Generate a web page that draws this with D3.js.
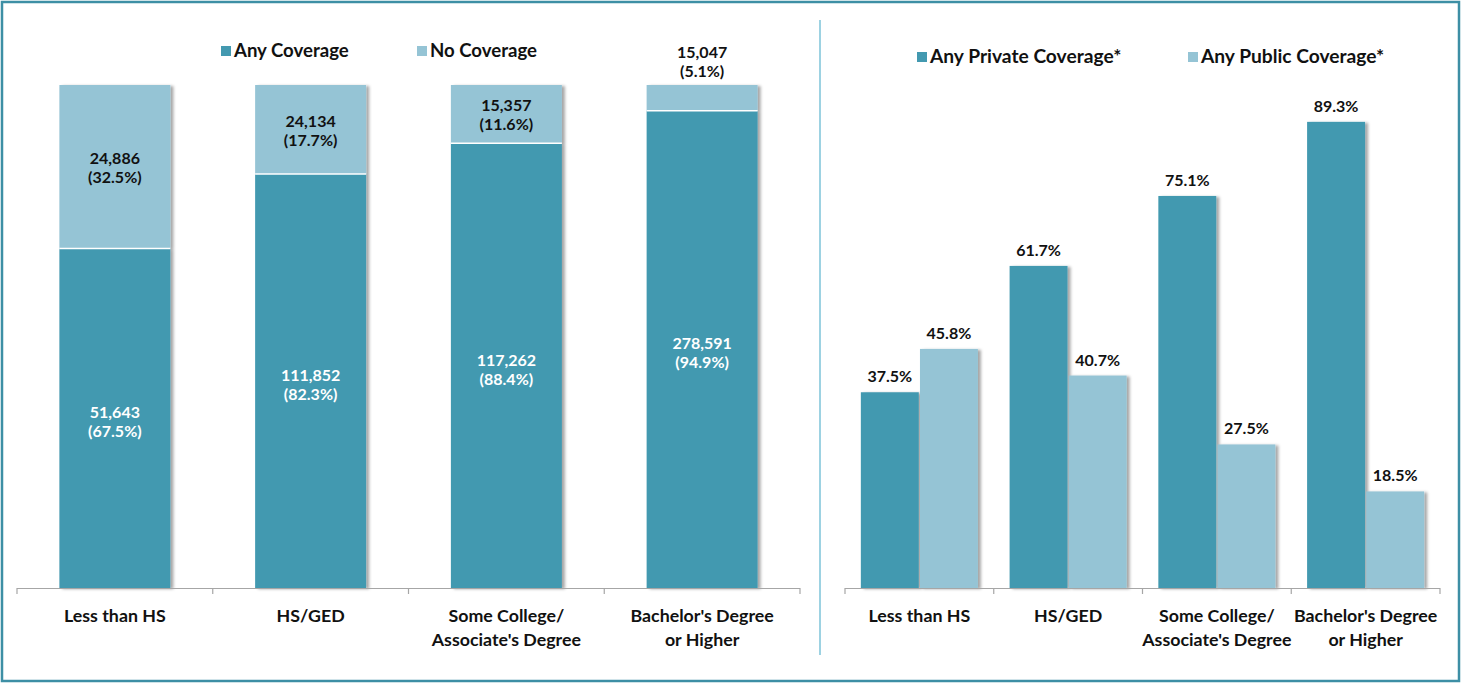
<!DOCTYPE html>
<html>
<head>
<meta charset="utf-8">
<script src="https://cdnjs.cloudflare.com/ajax/libs/d3/7.8.5/d3.min.js"></script>
<style>
  body { margin: 0; background: #fff; }
  text { font-family: Lato, "Open Sans", sans-serif; font-weight: bold; }
</style>
</head>
<body>
<div id="chart"></div>
<script>
// Chart data
var categories = ["Less than HS", "HS/GED", "Some College/\nAssociate's Degree", "Bachelor's Degree\nor Higher"];

// left panel: stacked coverage (counts and shares)
var anyCoverageCount = ["51,643", "111,852", "117,262", "278,591"];
var anyCoveragePct = [67.5, 82.3, 88.4, 94.9];
var noCoverageCount = ["24,886", "24,134", "15,357", "15,047"];
var noCoveragePct = [32.5, 17.7, 11.6, 5.1];

// right panel: private vs public
var privatePct = [37.5, 61.7, 75.1, 89.3];
var publicPct = [45.8, 40.7, 27.5, 18.5];

var leftLegend = ["Any Coverage", "No Coverage"];
var rightLegend = ["Any Private Coverage*", "Any Public Coverage*"];

var dark = "#4399b0";
var light = "#95c4d5";

var svgWidth = 1461;
var svgHeight = 683;

var svg = d3.select("#chart")
  .append("svg")
  .attr("width", svgWidth)
  .attr("height", svgHeight);

// shadow on bars
var defs = svg.append("defs");
var f = defs.append("filter").attr("id", "shadow")
  .attr("x", "-10%").attr("y", "-5%").attr("width", "130%").attr("height", "110%");
f.append("feDropShadow")
  .attr("dx", 3).attr("dy", 1).attr("stdDeviation", 1.5)
  .attr("flood-color", "#000").attr("flood-opacity", 0.35);

// outer frame + divider
svg.append("rect")
  .attr("x", 2).attr("y", 2)
  .attr("width", svgWidth - 4).attr("height", svgHeight - 4)
  .attr("fill", "none").attr("stroke", "#3d8fa5").attr("stroke-width", 2.5);

svg.append("line")
  .attr("x1", 820).attr("x2", 820).attr("y1", 20).attr("y2", 655)
  .attr("stroke", "#7cc3d8").attr("stroke-width", 1.5);

var baseY = 588;

function drawCategoryAxis(scale, x0, x1) {
  var g = svg.append("g");
  g.append("line")
    .attr("x1", x0).attr("x2", x1).attr("y1", baseY + 0.5).attr("y2", baseY + 0.5)
    .attr("stroke", "#a6a6a6").attr("stroke-width", 1.2);
  var bounds = categories.map(function(c) { return scale(c) - scale.step() * scale.paddingInner() / 2; });
  bounds.push(x1);
  g.selectAll("line.tick").data(bounds).enter().append("line")
    .attr("class", "tick")
    .attr("x1", d => d).attr("x2", d => d)
    .attr("y1", baseY).attr("y2", baseY + 6)
    .attr("stroke", "#a6a6a6").attr("stroke-width", 1.2);
  var labels = g.selectAll("text").data(categories).enter().append("text")
    .attr("text-anchor", "middle")
    .attr("font-size", "17.8px")
    .attr("fill", "#111");
  labels.each(function(d) {
    var t = d3.select(this);
    d.split("\n").forEach(function(line, i) {
      t.append("tspan")
        .attr("x", scale(d) + scale.bandwidth() / 2)
        .attr("y", 622 + i * 24)
        .text(line);
    });
  });
}

function drawLegend(items, xs, y, size) {
  var colors = [dark, light];
  items.forEach(function(name, i) {
    svg.append("rect")
      .attr("x", xs[i]).attr("y", y - 11)
      .attr("width", 10).attr("height", 10)
      .attr("fill", colors[i]);
    svg.append("text")
      .attr("x", xs[i] + 13).attr("y", y)
      .attr("font-size", size)
      .attr("fill", "#111")
      .text(name);
  });
}

// ---------------- Left panel ----------------
var xLeft = d3.scaleBand()
  .domain(categories)
  .range([17, 800])
  .paddingInner(0.433)
  .paddingOuter(0.2165);

var yLeft = d3.scaleLinear()
  .domain([0, 100])
  .range([baseY, 85]);

var leftRows = categories.map(function(c, i) {
  return { cat: c, anyPct: anyCoveragePct[i], anyN: anyCoverageCount[i], noPct: noCoveragePct[i], noN: noCoverageCount[i] };
});

var lg = svg.append("g");
var stacks = lg.selectAll("g.stack").data(leftRows).enter().append("g")
  .attr("class", "stack")
  .attr("filter", "url(#shadow)");

stacks.append("rect")
  .attr("x", d => xLeft(d.cat))
  .attr("width", xLeft.bandwidth())
  .attr("y", d => yLeft(d.anyPct))
  .attr("height", d => baseY - yLeft(d.anyPct))
  .attr("fill", dark);

stacks.append("rect")
  .attr("x", d => xLeft(d.cat))
  .attr("width", xLeft.bandwidth())
  .attr("y", d => yLeft(d.anyPct + d.noPct))
  .attr("height", d => yLeft(d.anyPct) - yLeft(d.anyPct + d.noPct))
  .attr("fill", light);

// white separator between segments
lg.selectAll("line.sep").data(leftRows).enter().append("line")
  .attr("x1", d => xLeft(d.cat)).attr("x2", d => xLeft(d.cat) + xLeft.bandwidth())
  .attr("y1", d => yLeft(d.anyPct)).attr("y2", d => yLeft(d.anyPct))
  .attr("stroke", "#fff").attr("stroke-width", 1.5);

// labels - any coverage (white inside bar)
leftRows.forEach(function(d) {
  var cx = xLeft(d.cat) + xLeft.bandwidth() / 2;
  var midAny = (yLeft(d.anyPct) + baseY) / 2;
  var t = lg.append("text").attr("text-anchor", "middle").attr("font-size", "16px").attr("fill", "#fff");
  t.append("tspan").attr("x", cx).attr("y", midAny).text(d.anyN);
  t.append("tspan").attr("x", cx).attr("y", midAny + 19).text("(" + d.anyPct.toFixed(1) + "%)");

  var top = yLeft(d.anyPct + d.noPct);
  var segH = yLeft(d.anyPct) - top;
  var t2 = lg.append("text").attr("text-anchor", "middle").attr("font-size", "16px").attr("fill", "#111");
  if (segH > 40) {
    var mid = top + segH / 2;
    t2.append("tspan").attr("x", cx).attr("y", mid - 3).text(d.noN);
    t2.append("tspan").attr("x", cx).attr("y", mid + 16).text("(" + d.noPct.toFixed(1) + "%)");
  } else {
    t2.append("tspan").attr("x", cx).attr("y", top - 27).text(d.noN);
    t2.append("tspan").attr("x", cx).attr("y", top - 8).text("(" + d.noPct.toFixed(1) + "%)");
  }
});

drawCategoryAxis(xLeft, 17, 800);
drawLegend(leftLegend, [221, 417], 57, "18.6px");

// ---------------- Right panel ----------------
var xRight = d3.scaleBand()
  .domain(categories)
  .range([845, 1440])
  .paddingInner(0.213)
  .paddingOuter(0.1065);

var series = ["private", "public"];
var xSub = d3.scaleBand()
  .domain(series)
  .range([0, xRight.bandwidth()])
  .paddingInner(0.02);

var yRight = d3.scaleLinear()
  .domain([0, 100])
  .range([baseY, 66]);

var rightRows = [];
categories.forEach(function(c, i) {
  rightRows.push({ cat: c, key: "private", value: privatePct[i], color: dark });
  rightRows.push({ cat: c, key: "public", value: publicPct[i], color: light });
});

var rg = svg.append("g");
rg.selectAll("rect").data(rightRows).enter().append("rect")
  .attr("x", d => xRight(d.cat) + xSub(d.key))
  .attr("width", xSub.bandwidth())
  .attr("y", d => yRight(d.value))
  .attr("height", d => baseY - yRight(d.value))
  .attr("fill", d => d.color)
  .attr("filter", "url(#shadow)");

rg.selectAll("text.val").data(rightRows).enter().append("text")
  .attr("class", "val")
  .attr("text-anchor", "middle")
  .attr("font-size", "16px")
  .attr("fill", "#111")
  .attr("x", d => xRight(d.cat) + xSub(d.key) + xSub.bandwidth() / 2)
  .attr("y", d => yRight(d.value) - 10)
  .text(d => d.value.toFixed(1) + "%");

drawCategoryAxis(xRight, 845, 1440);
drawLegend(rightLegend, [917, 1188], 63, "19.2px");
</script>
</body>
</html>
